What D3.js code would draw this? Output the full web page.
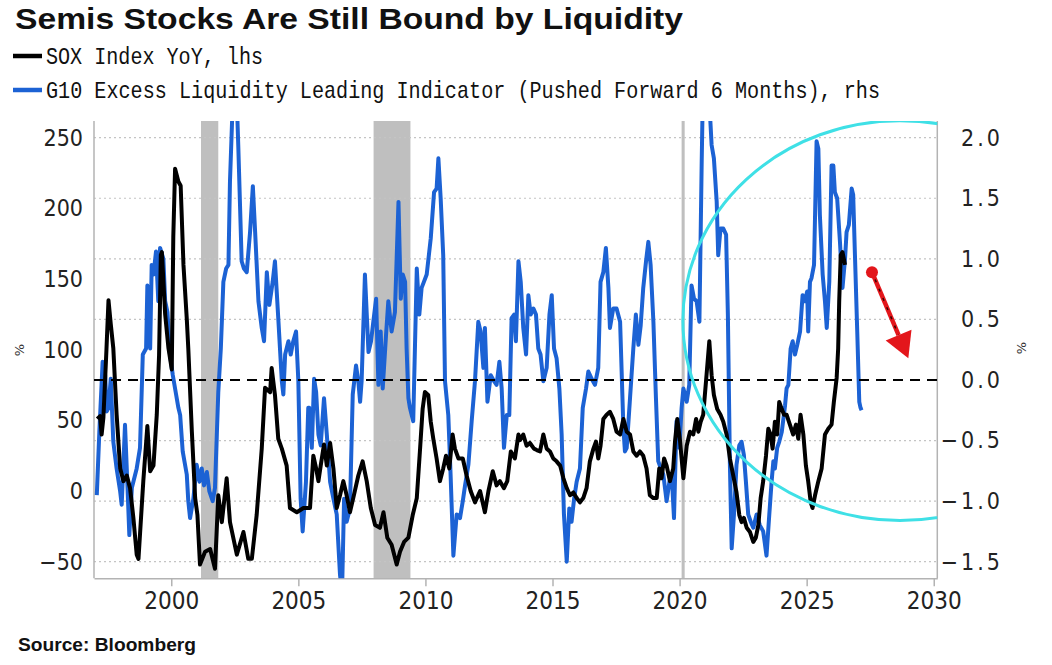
<!DOCTYPE html>
<html>
<head>
<meta charset="utf-8">
<script src="https://cdn.jsdelivr.net/npm/d3@7"></script>
<style>
  body { margin: 0; background: #fff; }
  svg { display: block; }
</style>
</head>
<body>
<svg></svg>
<script>
// chart values
let xTicks = [2000, 2005, 2010, 2015, 2020, 2025, 2030]
let leftTicks = [-50, 0, 50, 100, 150, 200, 250]
let rightTicks = [-1.5, -1.0, -0.5, 0.5, 1.0, 1.5, 2.0]

let recessions = [[2001.17, 2001.85], [2007.96, 2009.41], [2020.08, 2020.2]]

// SOX Index YoY, lhs  [year, %]
let soxYoY = [
  [1997.09, 51], [1997.2, 53], [1997.26, 40], [1997.33, 52], [1997.45, 100], [1997.53, 135], [1997.62, 118],
  [1997.72, 101], [1997.85, 54], [1997.99, 16], [1998.12, 7], [1998.25, 11], [1998.38, 2], [1998.51, -19],
  [1998.64, -45], [1998.71, -48], [1998.9, 7], [1999.06, 46], [1999.17, 14], [1999.3, 18], [1999.43, 54],
  [1999.52, 96], [1999.59, 167], [1999.63, 169], [1999.76, 125], [1999.89, 101], [2000.02, 86], [2000.08, 180],
  [2000.15, 228], [2000.28, 219], [2000.37, 216], [2000.48, 160], [2000.61, 122], [2000.67, 101], [2000.81, 42],
  [2000.94, -5], [2001.03, -17], [2001.13, -52], [2001.33, -43], [2001.53, -41], [2001.72, -55], [2001.85, -3],
  [2001.99, -22], [2002.18, 9], [2002.31, -22], [2002.58, -45], [2002.84, -29], [2003.03, -48], [2003.17, -48],
  [2003.36, -17], [2003.56, 30], [2003.69, 73], [2003.89, 70], [2003.95, 87], [2004.08, 68], [2004.21, 37],
  [2004.35, 30], [2004.54, 18], [2004.67, -12], [2004.94, -15], [2005.2, -12], [2005.46, -12], [2005.59, 25],
  [2005.7, 16], [2005.79, 7], [2005.88, 18], [2006.01, 33], [2006.12, 18], [2006.25, 34], [2006.38, 16],
  [2006.51, -12], [2006.64, -3], [2006.77, 7], [2006.9, -3], [2007.03, -15], [2007.16, -5], [2007.36, 11],
  [2007.53, 21], [2007.69, 7], [2007.85, -12], [2008.02, -24], [2008.21, -26], [2008.35, -15], [2008.5, -33],
  [2008.67, -38], [2008.87, -52], [2009.0, -43], [2009.16, -36], [2009.33, -33], [2009.5, -17], [2009.66, -5],
  [2009.79, 30], [2009.89, 58], [2009.98, 70], [2010.11, 68], [2010.21, 49], [2010.31, 37], [2010.44, 23],
  [2010.57, 7], [2010.7, 16], [2010.81, 25], [2010.94, 16], [2011.07, 40], [2011.16, 30], [2011.3, 23],
  [2011.47, 23], [2011.62, 11], [2011.78, 0], [2011.95, -8], [2012.15, 0], [2012.34, -15], [2012.48, 0],
  [2012.65, 14], [2012.8, 4], [2012.93, 7], [2013.09, 2], [2013.22, 7], [2013.36, 28], [2013.52, 23],
  [2013.66, 40], [2013.72, 36], [2013.85, 40], [2013.98, 32], [2014.11, 34], [2014.27, 30], [2014.38, 29],
  [2014.51, 28], [2014.64, 40], [2014.77, 30], [2014.9, 28], [2015.03, 23], [2015.16, 21], [2015.3, 18],
  [2015.43, 9], [2015.56, 2], [2015.69, -3], [2015.82, -1], [2015.95, -5], [2016.08, -8], [2016.21, -5],
  [2016.34, 2], [2016.47, 21], [2016.61, 30], [2016.71, 35], [2016.8, 23], [2016.89, 32], [2017.0, 51],
  [2017.13, 54], [2017.26, 56], [2017.39, 51], [2017.52, 42], [2017.66, 40], [2017.79, 51], [2017.92, 42],
  [2018.05, 40], [2018.18, 28], [2018.31, 25], [2018.44, 28], [2018.57, 25], [2018.7, 16], [2018.83, -3],
  [2018.97, -5], [2019.1, -5], [2019.2, 16], [2019.29, 9], [2019.39, 23], [2019.49, 18], [2019.62, 7],
  [2019.75, 16], [2019.82, 35], [2019.91, 51], [2020.02, 35], [2020.15, 9], [2020.28, 32], [2020.41, 42],
  [2020.54, 40], [2020.65, 51], [2020.74, 42], [2020.83, 49], [2020.93, 54], [2021.06, 82], [2021.17, 106],
  [2021.26, 82], [2021.35, 68], [2021.48, 58], [2021.61, 54], [2021.72, 49], [2021.85, 40], [2021.98, 23],
  [2022.11, 11], [2022.24, -1], [2022.35, -17], [2022.44, -22], [2022.53, -19], [2022.64, -26], [2022.77, -29],
  [2022.9, -36], [2023.0, -33], [2023.1, -24], [2023.19, -5], [2023.29, 7], [2023.4, 25], [2023.49, 44],
  [2023.58, 40], [2023.66, 30], [2023.75, 49], [2023.84, 40], [2023.92, 63], [2024.02, 58], [2024.11, 54],
  [2024.21, 54], [2024.34, 47], [2024.47, 40], [2024.58, 47], [2024.67, 37], [2024.76, 54], [2024.87, 40],
  [2024.97, 18], [2025.06, 7], [2025.16, -8], [2025.23, -12], [2025.33, -3], [2025.46, 7], [2025.59, 16],
  [2025.72, 40], [2025.85, 44], [2025.98, 47], [2026.07, 63], [2026.18, 80], [2026.24, 101], [2026.28, 134],
  [2026.34, 167], [2026.41, 169], [2026.51, 160]
]

// G10 Excess Liquidity Leading Indicator (pushed forward 6 months), rhs
let g10Liquidity = [
  [1997.07, -0.95], [1997.17, -0.43], [1997.3, 0.15], [1997.4, 0.04], [1997.46, -0.26], [1997.53, -0.23],
  [1997.62, 0.01], [1997.72, -0.51], [1997.85, -0.73], [1997.99, -0.92], [1998.05, -1.03], [1998.18, -0.37],
  [1998.27, -0.84], [1998.35, -1.28], [1998.45, -0.89], [1998.64, -0.73], [1998.77, -0.56], [1998.88, 0.21],
  [1999.01, 0.26], [1999.06, 0.78], [1999.17, 0.26], [1999.23, 0.95], [1999.3, 0.87], [1999.4, 1.06],
  [1999.49, 0.65], [1999.56, 1.09], [1999.69, 1.0], [1999.76, 0.65], [1999.85, 0.56], [1999.95, 0.21],
  [2000.06, 0.04], [2000.19, -0.12], [2000.28, -0.23], [2000.35, -0.29], [2000.45, -0.59], [2000.61, -0.78],
  [2000.67, -1.0], [2000.74, -1.14], [2000.87, -0.98], [2001.0, -0.7], [2001.11, -0.84], [2001.2, -0.73],
  [2001.29, -0.87], [2001.4, -0.76], [2001.5, -0.92], [2001.63, -1.0], [2001.72, -0.89], [2001.85, -0.1],
  [2001.95, 0.26], [2002.05, 0.81], [2002.16, 0.92], [2002.25, 0.95], [2002.31, 1.64], [2002.42, 2.3],
  [2002.58, 2.3], [2002.64, 1.91], [2002.77, 0.98], [2002.86, 0.92], [2002.97, 0.89], [2003.1, 1.22],
  [2003.21, 1.6], [2003.3, 1.22], [2003.43, 0.65], [2003.56, 0.43], [2003.65, 0.32], [2003.76, 0.89],
  [2003.86, 0.62], [2003.99, 0.81], [2004.08, 0.98], [2004.21, 0.51], [2004.35, -0.01], [2004.41, -0.12],
  [2004.48, 0.21], [2004.61, 0.32], [2004.7, 0.21], [2004.8, 0.32], [2004.91, 0.4], [2005.0, -0.01],
  [2005.09, -0.98], [2005.17, -1.25], [2005.3, -0.84], [2005.39, -0.23], [2005.43, -0.23], [2005.53, -0.56],
  [2005.62, 0.01], [2005.7, -0.1], [2005.79, -0.45], [2005.88, -0.54], [2006.01, -0.15], [2006.12, -0.45],
  [2006.25, -0.84], [2006.38, -0.98], [2006.51, -1.11], [2006.64, -1.61], [2006.72, -1.75], [2006.8, -0.98],
  [2006.9, -1.17], [2007.03, -1.06], [2007.14, -0.12], [2007.27, 0.12], [2007.36, -0.01], [2007.43, -0.18],
  [2007.49, -0.01], [2007.62, 0.87], [2007.76, 0.23], [2007.86, 0.32], [2007.95, 0.48], [2008.06, 0.67],
  [2008.15, -0.04], [2008.24, 0.4], [2008.32, -0.07], [2008.45, 0.37], [2008.54, 0.65], [2008.67, 0.4],
  [2008.8, 0.56], [2008.94, 1.47], [2009.03, 0.67], [2009.11, 0.87], [2009.2, 0.81], [2009.26, 0.26],
  [2009.33, -0.15], [2009.39, -0.23], [2009.52, -0.34], [2009.66, 0.92], [2009.76, 0.54], [2009.85, 0.76],
  [2009.94, 0.81], [2010.05, 0.87], [2010.21, 1.17], [2010.34, 1.55], [2010.44, 1.58], [2010.51, 1.83],
  [2010.6, 1.5], [2010.7, 1.03], [2010.77, -0.01], [2010.9, -0.29], [2010.99, -0.78], [2011.1, -1.45],
  [2011.23, -1.11], [2011.36, -1.14], [2011.47, -1.0], [2011.56, -0.87], [2011.69, -0.7], [2011.82, -0.34],
  [2011.95, -0.01], [2012.08, 0.48], [2012.17, 0.4], [2012.28, 0.1], [2012.34, 0.43], [2012.44, -0.18],
  [2012.57, 0.04], [2012.7, -0.01], [2012.8, -0.04], [2012.91, 0.15], [2013.0, -0.07], [2013.09, -0.56],
  [2013.2, -0.29], [2013.3, -0.29], [2013.39, 0.51], [2013.49, 0.54], [2013.56, 0.32], [2013.66, 0.98],
  [2013.75, 0.81], [2013.85, 0.43], [2013.96, 0.21], [2014.05, 0.7], [2014.14, 0.54], [2014.25, 0.59],
  [2014.35, 0.54], [2014.44, 0.26], [2014.53, 0.21], [2014.64, -0.01], [2014.77, 0.1], [2014.88, 0.54],
  [2014.97, 0.7], [2015.06, 0.26], [2015.16, 0.18], [2015.27, -0.07], [2015.36, -0.45], [2015.45, -1.11],
  [2015.56, -1.5], [2015.66, -1.06], [2015.75, -1.17], [2015.85, -0.98], [2015.95, -0.84], [2016.08, -0.73],
  [2016.19, -0.23], [2016.32, -0.07], [2016.41, 0.07], [2016.54, 0.01], [2016.67, -0.04], [2016.8, 0.1],
  [2016.89, 0.81], [2017.0, 0.89], [2017.1, 1.09], [2017.2, 0.76], [2017.26, 0.43], [2017.39, 0.59],
  [2017.52, 0.59], [2017.66, 0.48], [2017.79, -0.4], [2017.85, -0.59], [2017.92, -0.56], [2018.05, -0.15],
  [2018.18, 0.26], [2018.28, 0.54], [2018.38, 0.29], [2018.47, 0.45], [2018.57, 0.76], [2018.68, 0.98],
  [2018.77, 1.14], [2018.86, 0.95], [2018.97, 0.48], [2019.07, -0.15], [2019.16, -0.67], [2019.26, -0.73],
  [2019.36, -0.78], [2019.49, -1.0], [2019.6, -0.84], [2019.69, -0.78], [2019.78, -1.14], [2019.88, -0.34],
  [2019.99, -0.56], [2020.08, -0.23], [2020.15, -0.07], [2020.28, -0.18], [2020.38, -0.04], [2020.47, 0.78],
  [2020.57, 0.67], [2020.67, 0.65], [2020.78, 0.48], [2020.87, 1.8], [2020.91, 2.3], [2021.17, 2.3],
  [2021.26, 1.94], [2021.35, 1.83], [2021.46, 1.47], [2021.52, 1.03], [2021.61, 1.25], [2021.72, 1.25],
  [2021.83, 1.2], [2021.9, 0.54], [2021.98, -0.7], [2022.05, -1.39], [2022.14, -1.11], [2022.24, -0.7],
  [2022.35, -0.54], [2022.44, -0.51], [2022.53, -0.62], [2022.61, -0.84], [2022.7, -1.11], [2022.8, -1.17],
  [2022.9, -1.22], [2023.03, -1.11], [2023.16, -1.2], [2023.29, -1.25], [2023.42, -1.45], [2023.53, -1.11],
  [2023.62, -0.84], [2023.69, -0.67], [2023.75, -0.73], [2023.84, -0.56], [2023.92, -0.51], [2024.02, -0.43],
  [2024.15, -0.21], [2024.21, -0.07], [2024.28, -0.04], [2024.37, 0.26], [2024.45, 0.32], [2024.54, 0.21],
  [2024.63, 0.29], [2024.74, 0.4], [2024.84, 0.7], [2024.93, 0.65], [2025.02, 0.73], [2025.06, 0.4],
  [2025.13, 0.81], [2025.19, 0.84], [2025.29, 0.95], [2025.39, 1.97], [2025.46, 1.91], [2025.52, 1.36],
  [2025.63, 0.87], [2025.72, 0.65], [2025.79, 0.43], [2025.89, 0.81], [2025.98, 1.77], [2026.05, 1.77],
  [2026.11, 1.55], [2026.2, 1.5], [2026.31, 1.14], [2026.41, 0.76], [2026.51, 1.0], [2026.57, 1.22],
  [2026.66, 1.28], [2026.77, 1.58], [2026.83, 1.53], [2026.9, 1.03], [2026.99, 0.4], [2027.07, -0.18],
  [2027.12, -0.23], [2027.16, -0.25]
]

// annotations, in chart units (year, rhs)
let circleCenter = [2028.67, 0.49]
let circleRadius = [8.54, 1.65]
let arrowFrom = [2027.57, 0.89]
let arrowTo = [2029.0, 0.18]

let width = 1052
let height = 665
let plotLeft = 94
let plotRight = 937.3
let plotTop = 121
let plotBottom = 578.3

let blue = '#1c62d4'

let svg = d3.select('svg')
  .attr('width', width)
  .attr('height', height)

let xScale = d3.scaleLinear().domain([1996.96, 2030.14]).range([plotLeft, plotRight])
let yLeft = d3.scaleLinear().domain([-50, 250]).range([561.7, 137.7])
let yRight = d3.scaleLinear().domain([-1.5, 2.0]).range([561.7, 137.7])

svg.append('defs').append('clipPath').attr('id', 'plot')
  .append('rect')
  .attr('x', plotLeft).attr('y', plotTop)
  .attr('width', plotRight - plotLeft).attr('height', plotBottom - plotTop)

// titles
svg.append('text')
  .attr('x', 15).attr('y', 29)
  .attr('font-family', '"Liberation Sans Narrow", "Liberation Sans", Arial, sans-serif')
  .attr('font-weight', 'bold')
  .attr('font-size', 30)
  .attr('textLength', 668)
  .attr('lengthAdjust', 'spacingAndGlyphs')
  .attr('fill', '#111')
  .text('Semis Stocks Are Still Bound by Liquidity')

let legend = [
  { label: 'SOX Index YoY, lhs', color: '#000', y: 56, len: 217 },
  { label: 'G10 Excess Liquidity Leading Indicator (Pushed Forward 6 Months), rhs', color: blue, y: 90, len: 834 }
]
legend.forEach(d => {
  svg.append('line')
    .attr('x1', 13).attr('x2', 42)
    .attr('y1', d.y).attr('y2', d.y)
    .attr('stroke', d.color).attr('stroke-width', 4.5)
  svg.append('text')
    .attr('x', 46).attr('y', d.y + 8)
    .attr('font-family', '"Liberation Mono", "DejaVu Sans Mono", monospace')
    .attr('font-size', 24)
    .attr('textLength', d.len)
    .attr('lengthAdjust', 'spacingAndGlyphs')
    .attr('fill', '#111')
    .text(d.label)
})

// recession shading
svg.append('g').selectAll('rect')
  .data(recessions)
  .enter().append('rect')
  .attr('x', d => xScale(d[0]))
  .attr('width', d => xScale(d[1]) - xScale(d[0]))
  .attr('y', plotTop)
  .attr('height', plotBottom - plotTop)
  .attr('fill', '#bfbfbf')

// dotted gridlines from the right axis
svg.append('g').selectAll('line')
  .data(rightTicks)
  .enter().append('line')
  .attr('x1', plotLeft).attr('x2', plotRight)
  .attr('y1', d => yRight(d)).attr('y2', d => yRight(d))
  .attr('stroke', '#c4c4c4')
  .attr('stroke-width', 1.2)
  .attr('stroke-dasharray', '2,3')

// frame
let frame = svg.append('g').attr('stroke', '#b3b3b3').attr('stroke-width', 1.5)
frame.append('line').attr('x1', plotLeft).attr('x2', plotLeft).attr('y1', plotTop).attr('y2', plotBottom)
frame.append('line').attr('x1', plotRight).attr('x2', plotRight).attr('y1', plotTop).attr('y2', plotBottom)

// axes
let xAxis = d3.axisBottom(xScale)
  .tickValues(xTicks)
  .tickFormat(d3.format('d'))
  .tickSize(8)
  .tickSizeOuter(0)
  .tickPadding(6)

let gx = svg.append('g')
  .attr('transform', 'translate(0,' + plotBottom + ')')
  .call(xAxis)
gx.select('.domain').attr('stroke', '#b3b3b3').attr('stroke-width', 1.5)
gx.selectAll('.tick line').attr('stroke', '#b3b3b3').attr('stroke-width', 1.5)
gx.selectAll('.tick text')
  .attr('font-family', '"DejaVu Sans Condensed", "DejaVu Sans", sans-serif')
  .attr('font-size', 24)
  .attr('fill', '#222')

let gyl = svg.append('g')
  .attr('transform', 'translate(' + plotLeft + ',0)')
  .call(d3.axisLeft(yLeft).tickValues(leftTicks).tickSize(0).tickPadding(11))
gyl.select('.domain').remove()
gyl.selectAll('.tick text')
  .attr('font-family', '"DejaVu Sans Condensed", "DejaVu Sans", sans-serif')
  .attr('font-size', 23)
  .attr('fill', '#222')

let gyr = svg.append('g')
  .attr('transform', 'translate(1003,0)')
  .call(d3.axisLeft(yRight).tickValues(rightTicks.concat([0])).tickFormat(d3.format('.1f')).tickSize(0).tickPadding(0))
gyr.select('.domain').remove()
gyr.selectAll('.tick text')
  .attr('font-family', '"DejaVu Sans Condensed", "DejaVu Sans", sans-serif')
  .attr('font-size', 23)
  .attr('letter-spacing', 3)
  .attr('fill', '#222')

// unit markers
svg.append('text')
  .attr('transform', 'translate(24,350) rotate(-90)')
  .attr('text-anchor', 'middle')
  .attr('font-family', '"DejaVu Sans", sans-serif')
  .attr('font-size', 13)
  .attr('fill', '#333')
  .text('%')
svg.append('text')
  .attr('transform', 'translate(1026,348) rotate(-90)')
  .attr('text-anchor', 'middle')
  .attr('font-family', '"DejaVu Sans", sans-serif')
  .attr('font-size', 13)
  .attr('fill', '#333')
  .text('%')

// series
let plot = svg.append('g').attr('clip-path', 'url(#plot)')

let lineRight = d3.line().x(d => xScale(d[0])).y(d => yRight(d[1]))
let lineLeft = d3.line().x(d => xScale(d[0])).y(d => yLeft(d[1]))

plot.append('path')
  .datum(g10Liquidity)
  .attr('d', lineRight)
  .attr('fill', 'none')
  .attr('stroke', blue)
  .attr('stroke-width', 4)
  .attr('stroke-linejoin', 'round')

plot.append('line')
  .attr('x1', plotLeft).attr('x2', plotRight)
  .attr('y1', yRight(0)).attr('y2', yRight(0))
  .attr('stroke', '#000')
  .attr('stroke-width', 2.2)
  .attr('stroke-dasharray', '10,7')

plot.append('path')
  .datum(soxYoY)
  .attr('d', lineLeft)
  .attr('fill', 'none')
  .attr('stroke', '#000')
  .attr('stroke-width', 4)
  .attr('stroke-linejoin', 'round')

// cyan circle
let cx = xScale(circleCenter[0])
let cy = yRight(circleCenter[1])
plot.append('ellipse')
  .attr('cx', cx).attr('cy', cy)
  .attr('rx', xScale(circleCenter[0] + circleRadius[0]) - cx)
  .attr('ry', cy - yRight(circleCenter[1] + circleRadius[1]))
  .attr('fill', 'none')
  .attr('stroke', '#3fe0e6')
  .attr('stroke-width', 3)

// red arrow
let ax1 = xScale(arrowFrom[0]), ay1 = yRight(arrowFrom[1])
let ax2 = xScale(arrowTo[0]), ay2 = yRight(arrowTo[1])
let len = Math.hypot(ax2 - ax1, ay2 - ay1)
let ux = (ax2 - ax1) / len, uy = (ay2 - ay1) / len
let headLen = 25, headW = 14
let bx = ax2 - ux * headLen, by = ay2 - uy * headLen

let arrow = svg.append('g')
arrow.append('line')
  .attr('x1', ax1).attr('y1', ay1).attr('x2', bx).attr('y2', by)
  .attr('stroke', '#e3161b').attr('stroke-width', 4.5)
arrow.append('line')
  .attr('x1', ax1 + ux * 8).attr('y1', ay1 + uy * 8).attr('x2', bx).attr('y2', by)
  .attr('stroke', '#3a0000').attr('stroke-width', 1.5)
  .attr('stroke-dasharray', '3,7')
arrow.append('path')
  .attr('d', 'M' + ax2 + ',' + ay2 +
    'L' + (bx - uy * headW) + ',' + (by + ux * headW) +
    'L' + (bx + uy * headW) + ',' + (by - ux * headW) + 'Z')
  .attr('fill', '#e3161b')
arrow.append('circle')
  .attr('cx', ax1).attr('cy', ay1).attr('r', 6)
  .attr('fill', '#e3161b')

// source
svg.append('text')
  .attr('x', 18).attr('y', 651)
  .attr('font-family', '"Liberation Sans Narrow", "Liberation Sans", Arial, sans-serif')
  .attr('font-weight', 'bold')
  .attr('font-size', 18)
  .attr('textLength', 178)
  .attr('lengthAdjust', 'spacingAndGlyphs')
  .attr('fill', '#111')
  .text('Source: Bloomberg')
</script>
</body>
</html>
